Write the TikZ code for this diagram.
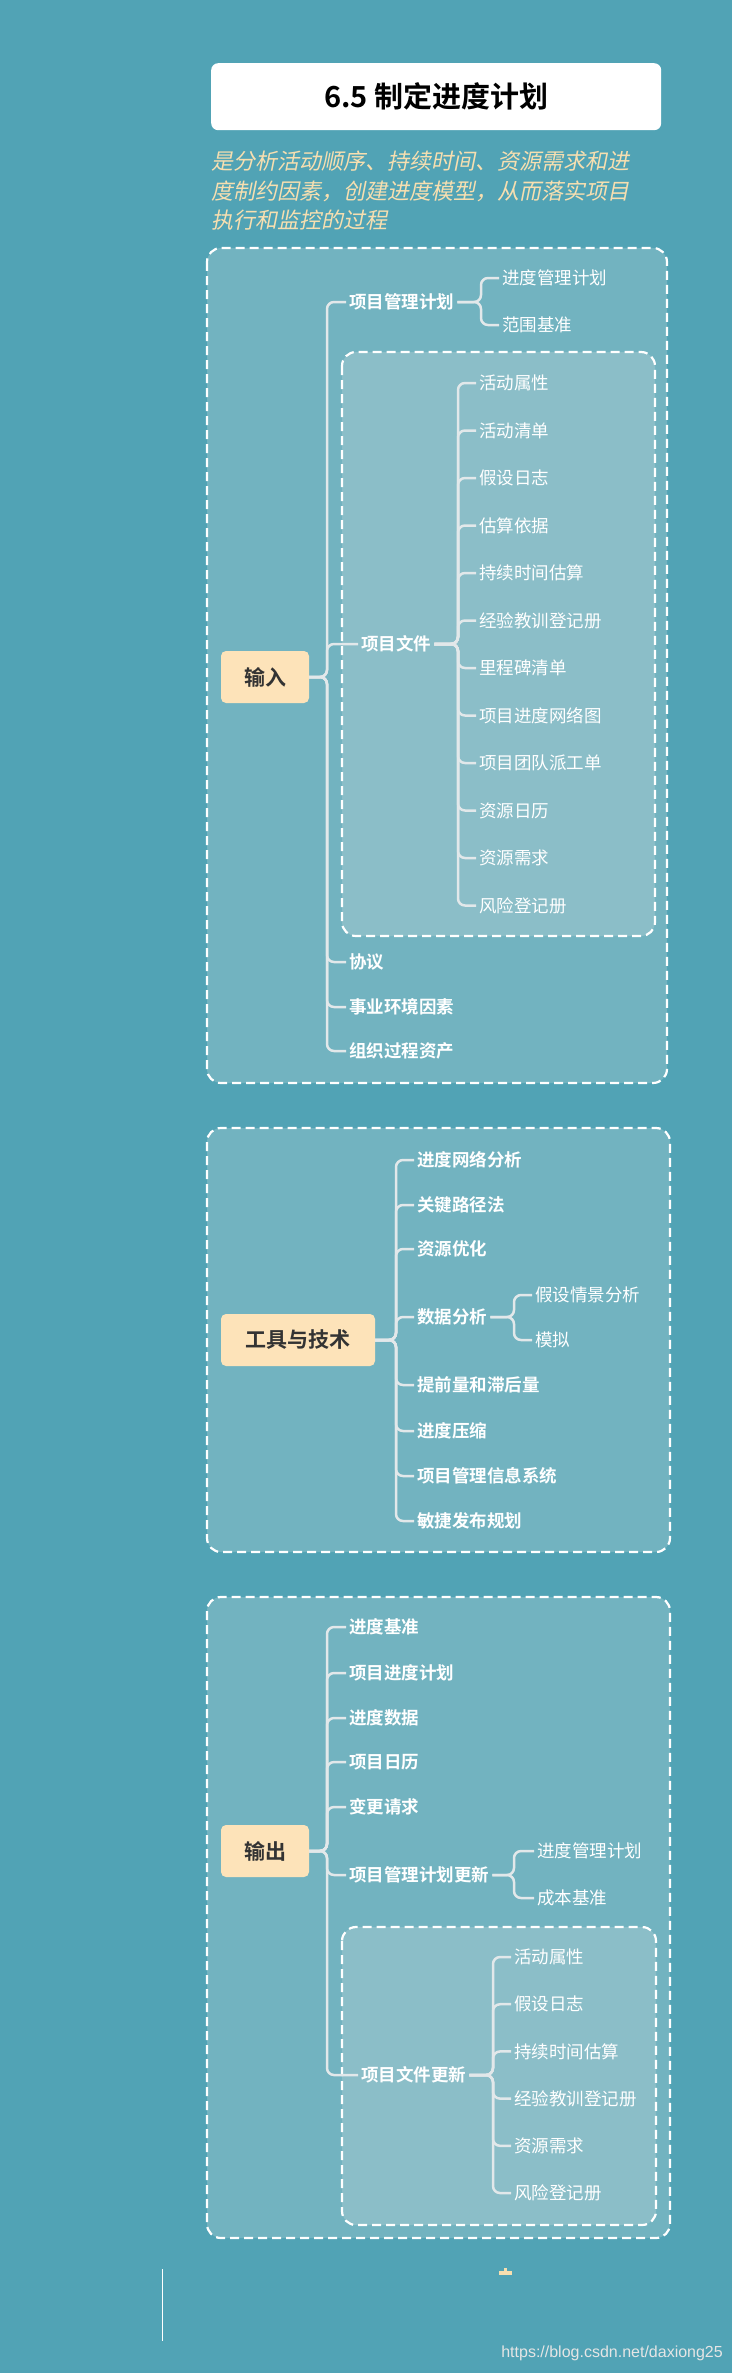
\documentclass[tikz,border=0pt]{standalone}
\usepackage{fontspec}
\setmainfont{Noto Sans CJK SC}[BoldFont=Noto Sans CJK SC Bold]
\newfontfamily\cjkit[FakeSlant=0.2]{Noto Sans CJK SC}
\newfontfamily\wm{Liberation Sans}
\definecolor{bg}{HTML}{51A3B5}
\definecolor{outerf}{HTML}{72B3C0}
\definecolor{innerf}{HTML}{8BBEC8}
\definecolor{tagf}{HTML}{FDE3B9}
\definecolor{wheat}{HTML}{F7DFB0}
\definecolor{linec}{HTML}{E2E8EA}
\begin{document}
\begin{tikzpicture}[x=1pt,y=-1pt,
  outerbox/.style={draw=white,dashed,dash pattern=on 9pt off 5pt,line width=2.2pt,rounded corners=14pt,fill=outerf},
  innerbox/.style={draw=white,dash pattern=on 9pt off 5pt,line width=2.2pt,rounded corners=14pt,fill=innerf},
  tag/.style={fill=tagf,rounded corners=5pt,text=black!80,font=\bfseries\fontsize{21}{24}\selectfont,minimum height=52pt,inner xsep=0pt},
  mid/.style={anchor=west,text=white,font=\bfseries\fontsize{17.5}{20}\selectfont,inner xsep=3pt,inner ysep=1pt},
  leaf/.style={anchor=west,text=white,font=\fontsize{17.5}{20}\selectfont,inner xsep=3pt,inner ysep=1pt},
  conn/.style={draw=linec,line width=2.5pt,rounded corners=7pt}]
\fill[bg] (0,0) rectangle (732,2373);
\useasboundingbox (0,0) rectangle (732,2373);
% title
\node[fill=white,rounded corners=7pt,minimum width=450pt,minimum height=67pt,anchor=north west,font=\bfseries\fontsize{29}{32}\selectfont,text=black] (title) at (211,63) {6.5 制定进度计划};
\node[anchor=north west,align=left,inner sep=0pt,text=wheat,font=\cjkit\fontsize{22}{29.5}\selectfont] (sub) at (211,151) {是分析活动顺序、持续时间、资源需求和进\\度制约因素，创建进度模型，从而落实项目\\执行和监控的过程};
% ===== input
\draw[outerbox] (207,248) rectangle (667,1083);
\draw[innerbox] (342,352) rectangle (655,936);
\node[tag,minimum width=88pt] (in) at (265,677) {输入};
\node[mid] (pmp) at (346,302) {项目管理计划};
\node[mid] (pd) at (358,644) {项目文件};
\node[mid] (agr) at (346,962) {协议};
\node[mid] (eef) at (346,1007) {事业环境因素};
\node[mid] (opa) at (346,1051) {组织过程资产};
\foreach \n in {pmp,pd,agr,eef,opa}{\draw[conn] (in.east) -- (327,677) |- (\n.west);}
\node[leaf] (p1) at (499,278) {进度管理计划};
\node[leaf] (p2) at (499,325) {范围基准};
\foreach \n in {p1,p2}{\draw[conn] (pmp.east) -- (481,302) |- (\n.west);}
\foreach \t [count=\i from 0] in {活动属性,活动清单,假设日志,估算依据,持续时间估算,经验教训登记册,里程碑清单,项目进度网络图,项目团队派工单,资源日历,资源需求,风险登记册}{
  \node[leaf] (d\i) at (476,383+47.5*\i) {\t};
  \draw[conn] (pd.east) -- (458,644) |- (d\i.west);
}
% ===== tools
\draw[outerbox] (207,1128) rectangle (670,1552);
\node[tag,minimum width=154pt] (tt) at (298,1340) {工具与技术};
\foreach \t/\y/\nm in {进度网络分析/1160/t1,关键路径法/1205/t2,资源优化/1249/t3,数据分析/1317/t4,提前量和滞后量/1385/t5,进度压缩/1431/t6,项目管理信息系统/1476/t7,敏捷发布规划/1521/t8}{
  \node[mid] (\nm) at (414,\y) {\t};
  \draw[conn] (tt.east) -- (396,1340) |- (\nm.west);
}
\node[leaf] (a1) at (532,1295) {假设情景分析};
\node[leaf] (a2) at (532,1340) {模拟};
\foreach \n in {a1,a2}{\draw[conn] (t4.east) -- (514,1317) |- (\n.west);}
% ===== output
\draw[outerbox] (207,1597) rectangle (670,2238);
\draw[innerbox] (342,1927) rectangle (656,2225);
\node[tag,minimum width=88pt] (out) at (265,1851) {输出};
\foreach \t/\y/\nm/\xx in {进度基准/1627/o1/346,项目进度计划/1673/o2/346,进度数据/1718/o3/346,项目日历/1762/o4/346,变更请求/1807/o5/346,项目管理计划更新/1875/o6/346,项目文件更新/2075/o7/358}{
  \node[mid] (\nm) at (\xx,\y) {\t};
  \draw[conn] (out.east) -- (327,1851) |- (\nm.west);
}
\node[leaf] (u1) at (534,1851) {进度管理计划};
\node[leaf] (u2) at (534,1898) {成本基准};
\foreach \n in {u1,u2}{\draw[conn] (o6.east) -- (514,1875) |- (\n.west);}
\foreach \t [count=\i from 0] in {活动属性,假设日志,持续时间估算,经验教训登记册,资源需求,风险登记册}{
  \node[leaf] (f\i) at (511,1957+47.2*\i) {\t};
  \draw[conn] (o7.east) -- (493,2075) |- (f\i.west);
}
% bottom
\draw[white,line width=1pt] (162,2269) -- (162,2341);
\fill[wheat] (499,2271) rectangle (512,2275);
\fill[wheat] (504,2268) rectangle (507,2271);
\node[anchor=east,text=white!80!gray,font=\wm\fontsize{16}{18}\selectfont,inner sep=0pt] (wmk) at (723,2353) {https://blog.csdn.net/daxiong25};
\end{tikzpicture}
\end{document}
